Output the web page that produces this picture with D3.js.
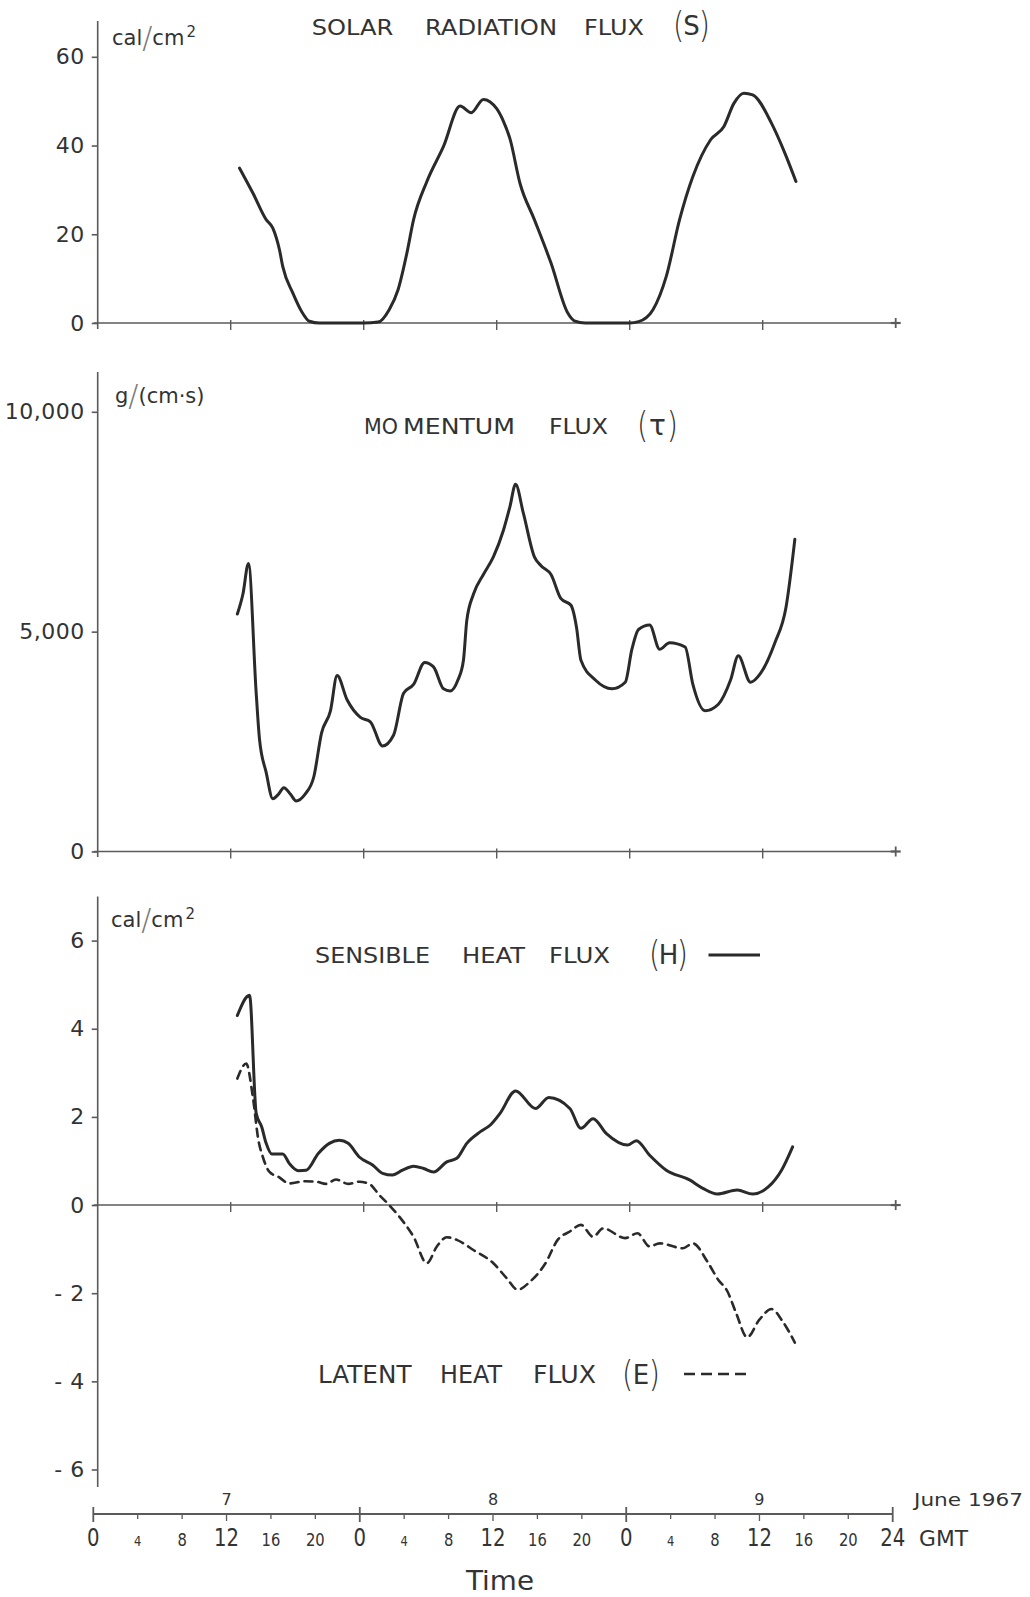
<!DOCTYPE html>
<html>
<head>
<meta charset="utf-8">
<script src="https://cdn.jsdelivr.net/npm/d3@7"></script>
<style>
  html, body { margin: 0; padding: 0; background: #fff; }
  svg { display: block; }
  text { font-family: "DejaVu Sans", "Liberation Sans", sans-serif; fill: #333; }
</style>
</head>
<body>
<svg id="chart" width="1030" height="1597"></svg>
<script>
// Surface energy fluxes, 7-9 June 1967: [hour since 00 GMT on the 7th, value]
const solarFlux = [
  [12.8, 34.9], [14.0, 29.3], [15.2, 23.3], [15.8, 21.4], [16.4, 16.5], [16.7, 12.7],
  [17.6, 6.8], [18.4, 2.6], [19.1, 0.4], [20.0, 0], [24.0, 0], [25.3, 0.2],
  [26.3, 3.0], [27.1, 7.5], [27.9, 15.8], [28.5, 23.3], [29.7, 31.9], [31.2, 39.8],
  [32.7, 48.9], [33.7, 47.4], [34.8, 50.4], [36.0, 48.3], [36.6, 45.5], [37.2, 41.5],
  [38.1, 31.5], [39.4, 23.3], [40.9, 13.5], [42.4, 2.3], [43.0, 0.5], [44.0, 0],
  [48.0, 0], [48.8, 0.3], [50.1, 3.0], [51.3, 10.5], [52.5, 23.3], [53.7, 33.0],
  [55.3, 41.3], [56.5, 44.3], [57.4, 49.5], [58.3, 51.8], [59.1, 51.4], [60.8, 45.0],
  [62.0, 38.3], [63.0, 31.9]
];

const momentumFlux = [
  [12.6, 5400], [13.1, 5850], [13.6, 6550], [14.3, 3600], [14.6, 2550], [15.2, 1800],
  [15.8, 1200], [16.3, 1300], [16.8, 1450], [17.4, 1300], [17.9, 1150], [18.7, 1300],
  [19.5, 1700], [20.2, 2700], [21.0, 3200], [21.6, 4000], [22.5, 3450], [23.7, 3050],
  [24.6, 2950], [25.7, 2400], [26.7, 2650], [27.6, 3600], [28.5, 3800], [29.5, 4300],
  [30.3, 4200], [31.2, 3700], [31.8, 3650], [32.5, 3900], [33.0, 4350], [33.3, 5250],
  [33.9, 5850], [34.8, 6300], [35.7, 6700], [36.6, 7300], [37.2, 7850], [37.7, 8350],
  [38.4, 7700], [39.4, 6700], [40.0, 6500], [40.9, 6300], [41.8, 5750], [42.7, 5600],
  [43.2, 5100], [43.6, 4350], [44.9, 3900], [46.4, 3700], [47.6, 3850], [48.2, 4600],
  [48.8, 5050], [49.8, 5150], [50.7, 4600], [51.6, 4750], [53.0, 4650], [53.7, 3800],
  [54.8, 3200], [56.0, 3350], [57.1, 3900], [57.8, 4450], [58.9, 3850], [59.8, 4050],
  [61.1, 4750], [62.1, 5550], [62.9, 7100]
];

const sensibleHeat = [
  [12.6, 4.30], [13.7, 4.76], [14.3, 2.08], [14.8, 1.77], [15.2, 1.40], [15.7, 1.16],
  [16.7, 1.16], [17.3, 0.94], [18.1, 0.78], [18.8, 0.79], [19.9, 1.17], [20.9, 1.40],
  [21.8, 1.47], [22.6, 1.40], [23.6, 1.09], [24.8, 0.91], [25.7, 0.72], [26.6, 0.68],
  [27.5, 0.79], [28.5, 0.88], [29.4, 0.83], [30.3, 0.75], [31.5, 0.98], [32.4, 1.06],
  [33.3, 1.40], [34.5, 1.66], [35.4, 1.81], [36.3, 2.08], [37.7, 2.59], [39.5, 2.19],
  [40.7, 2.44], [42.6, 2.19], [43.6, 1.74], [44.7, 1.96], [45.9, 1.62], [47.8, 1.36],
  [48.6, 1.46], [49.8, 1.13], [51.3, 0.79], [53.4, 0.57], [54.6, 0.38], [55.9, 0.25],
  [57.7, 0.34], [59.1, 0.25], [60.5, 0.41], [61.7, 0.79], [62.7, 1.32]
];

const latentHeat = [
  [12.6, 2.87], [13.4, 3.21], [14.0, 2.45], [14.5, 1.47], [14.9, 1.09], [15.5, 0.75],
  [16.3, 0.64], [17.3, 0.49], [18.7, 0.54], [19.7, 0.53], [20.6, 0.48], [21.5, 0.58],
  [22.6, 0.48], [23.6, 0.53], [24.5, 0.48], [25.4, 0.23], [26.3, 0.00], [27.2, -0.26],
  [28.5, -0.72], [29.7, -1.32], [30.6, -0.94], [31.5, -0.73], [32.4, -0.79], [33.9, -1.02],
  [35.7, -1.32], [36.9, -1.66], [37.9, -1.92], [39.0, -1.74], [40.4, -1.32], [41.5, -0.79],
  [42.6, -0.60], [43.6, -0.45], [44.7, -0.72], [45.6, -0.53], [47.6, -0.75], [48.7, -0.64],
  [49.8, -0.94], [50.7, -0.87], [52.8, -0.98], [53.7, -0.87], [55.0, -1.28], [56.0, -1.70],
  [56.8, -1.95], [57.6, -2.45], [58.6, -3.00], [59.7, -2.60], [60.8, -2.36], [61.8, -2.64],
  [62.9, -3.12]
];

const solarTicks = [0, 20, 40, 60];
const momentumTicks = [0, 5000, 10000];
const heatTicks = [-6, -4, -2, 0, 2, 4, 6];
const panelTimeTicks = [12, 24, 36, 48, 60];
const hourTicks = d3.range(0, 73, 4);
const hourLabels = ["0", "4", "8", "12", "16", "20", "0", "4", "8", "12", "16", "20",
                    "0", "4", "8", "12", "16", "20", "24"];
const dayLabels = ["7", "8", "9"];
const dayNoon = [12, 36, 60];

const svg = d3.select("#chart");
const ink = "#2a2a2a";
const axisInk = "#5a5a5a";

// shared time scale for the three panels, plus the separate time axis underneath
const x = d3.scaleLinear().domain([0, 72]).range([97.7, 895.7]);
const xTime = d3.scaleLinear().domain([0, 72]).range([93.3, 892.7]);

const ySolar = d3.scaleLinear().domain([0, 60]).range([323, 56.8]);
const yMom = d3.scaleLinear().domain([0, 10000]).range([851.5, 411.8]);
const yHeat = d3.scaleLinear().domain([-6, 6]).range([1469.5, 940.6]);

function panel(y, ticks, fmt, axisTop, axisBottom, baseY) {
  const g = svg.append("g");
  // vertical axis
  const ax = g.append("g")
    .attr("transform", `translate(${x(0)},0)`)
    .call(d3.axisLeft(y).tickValues(ticks).tickFormat(fmt).tickSize(6).tickPadding(7));
  ax.select(".domain").remove();
  ax.selectAll(".tick line").attr("stroke", axisInk).attr("stroke-width", 1.6);
  ax.selectAll(".tick text")
    .style("font-family", '"DejaVu Sans", sans-serif')
    .style("font-size", "22px").attr("fill", "#333").attr("letter-spacing", "0.5");
  g.append("line")
    .attr("x1", x(0)).attr("x2", x(0)).attr("y1", axisTop).attr("y2", axisBottom)
    .attr("stroke", axisInk).attr("stroke-width", 1.6);
  // horizontal time axis
  g.append("line")
    .attr("x1", x(0) - 4).attr("x2", x(72)).attr("y1", baseY).attr("y2", baseY)
    .attr("stroke", axisInk).attr("stroke-width", 1.6);
  g.selectAll("line.tt").data(panelTimeTicks).join("line")
    .attr("class", "tt")
    .attr("x1", d => x(d)).attr("x2", d => x(d))
    .attr("y1", baseY - 3).attr("y2", baseY + 7)
    .attr("stroke", axisInk).attr("stroke-width", 1.4);
  g.append("line")
    .attr("x1", x(72)).attr("x2", x(72)).attr("y1", baseY - 5).attr("y2", baseY + 5)
    .attr("stroke", axisInk).attr("stroke-width", 1.8);
  g.append("line")
    .attr("x1", x(72) - 5).attr("x2", x(72) + 5).attr("y1", baseY).attr("y2", baseY)
    .attr("stroke", axisInk).attr("stroke-width", 2.2);
  return g;
}

function curve(g, data, y, dashed) {
  const line = d3.line().x(d => x(d[0])).y(d => y(d[1])).curve(d3.curveMonotoneX);
  g.append("path")
    .attr("d", line(data))
    .attr("fill", "none")
    .attr("stroke", ink)
    .attr("stroke-width", dashed ? 2.6 : 3)
    .attr("stroke-linejoin", "round")
    .attr("stroke-linecap", "round")
    .attr("stroke-dasharray", dashed ? "8,6" : null);
}

// one lettered word stretched to the given span
function word(str, x0, x1, base, size) {
  return svg.append("text")
    .attr("x", x0).attr("y", base)
    .attr("textLength", x1 - x0).attr("lengthAdjust", "spacingAndGlyphs")
    .style("font-size", size + "px").text(str);
}

// a symbol in tall thin parentheses, e.g. (S)
function bracketed(sym, x0, x1, base, size) {
  const paren = (ch, px, anchor) => svg.append("text")
    .attr("x", px).attr("y", base + 2).attr("text-anchor", anchor)
    .style("font-size", "36px").style("font-weight", 200).attr("fill", "#444")
    .attr("transform", `translate(${px},0) scale(0.8,1) translate(${-px},0)`)
    .text(ch);
  paren("(", x0, "start");
  paren(")", x1, "end");
  svg.append("text")
    .attr("x", (x0 + x1) / 2).attr("y", base).attr("text-anchor", "middle")
    .style("font-size", size + "px").text(sym);
}

// unit label with a long thin slash and optional superscript
function unit(x0, base, num, den, sup) {
  const t = svg.append("text").attr("x", x0).attr("y", base).style("font-size", "21px");
  t.append("tspan").text(num);
  t.append("tspan").style("font-size", "30px").style("font-weight", 200).attr("fill", "#777").attr("dy", 3).text("/");
  t.append("tspan").attr("dy", -3).text(den);
  if (sup) t.append("tspan").style("font-size", "15px").attr("dy", -8).attr("dx", 2).text(sup);
  return t;
}

/* ---------- solar radiation ---------- */
const gS = panel(ySolar, solarTicks, d3.format("d"), 21, 329, ySolar(0));
curve(gS, solarFlux, ySolar, false);
unit(112, 45, "cal", "cm", "2");
word("SOLAR", 311.7, 393.3, 34.5, 22);
word("RADIATION", 425, 557, 34.5, 22);
word("FLUX", 584, 644, 34.5, 22);
bracketed("S", 673, 710, 35, 26);

/* ---------- momentum ---------- */
const gM = panel(yMom, momentumTicks, d3.format(","), 372, 857, yMom(0));
curve(gM, momentumFlux, yMom, false);
unit(115, 403, "g", "(cm·s)", null);
word("MO", 364, 398, 434, 22);
word("MENTUM", 403, 515, 434, 22);
word("FLUX", 549, 608, 434, 22);
bracketed("τ", 637, 678, 435, 28);

/* ---------- sensible and latent heat ---------- */
const gH = panel(yHeat, heatTicks, d => d < 0 ? "- " + (-d) : String(d), 896.5, 1487, yHeat(0));
curve(gH, sensibleHeat, yHeat, false);
curve(gH, latentHeat, yHeat, true);
unit(111, 927, "cal", "cm", "2");
word("SENSIBLE", 315, 430, 963, 22);
word("HEAT", 462, 525, 963, 22);
word("FLUX", 549, 610, 963, 22);
bracketed("H", 649, 688, 964, 26);
svg.append("line").attr("x1", 708.5).attr("x2", 760).attr("y1", 955).attr("y2", 955)
  .attr("stroke", ink).attr("stroke-width", 3);

word("LATENT", 318, 411.5, 1383, 24);
word("HEAT", 440, 502, 1383, 24);
word("FLUX", 533, 596, 1383, 24);
bracketed("E", 622, 660, 1384, 26);
svg.append("line").attr("x1", 684).attr("x2", 748).attr("y1", 1374).attr("y2", 1374)
  .attr("stroke", ink).attr("stroke-width", 2.6).attr("stroke-dasharray", "11,6");

/* ---------- time axis ---------- */
const tY = 1514;
const gT = svg.append("g");
gT.append("line").attr("x1", xTime(0)).attr("x2", xTime(72)).attr("y1", tY).attr("y2", tY)
  .attr("stroke", axisInk).attr("stroke-width", 1.8);
gT.selectAll("line.tk").data(hourTicks).join("line")
  .attr("class", "tk")
  .attr("x1", d => xTime(d)).attr("x2", d => xTime(d))
  .attr("y1", d => d % 24 === 0 ? tY - 7 : tY - 1)
  .attr("y2", d => d % 24 === 0 ? tY + 8 : (d % 12 === 0 ? tY + 7 : tY + 5))
  .attr("stroke", axisInk).attr("stroke-width", d => d % 24 === 0 ? 1.8 : 1.3);

const labelSize = h => (h % 12 === 0 ? 24 : (h % 8 === 0 || h % 24 === 20 ? 18 : 14));
gT.selectAll("text.hr").data(hourTicks).join("text")
  .attr("class", "hr")
  .attr("x", d => xTime(d)).attr("y", 1546)
  .attr("text-anchor", "middle")
  .style("font-size", d => labelSize(d) + "px")
  .attr("transform", d => `translate(${xTime(d)},1546) scale(0.82,1) translate(${-xTime(d)},-1546)`)
  .text((d, i) => hourLabels[i]);

gT.selectAll("text.day").data(dayLabels).join("text")
  .attr("class", "day")
  .attr("x", (d, i) => xTime(dayNoon[i])).attr("y", 1505)
  .attr("text-anchor", "middle")
  .style("font-size", "16px")
  .text(d => d);

word("GMT", 919, 968, 1546, 21);
word("June 1967", 914, 1023, 1506, 18);
word("Time", 466, 534, 1590, 27);
</script>
</body>
</html>
